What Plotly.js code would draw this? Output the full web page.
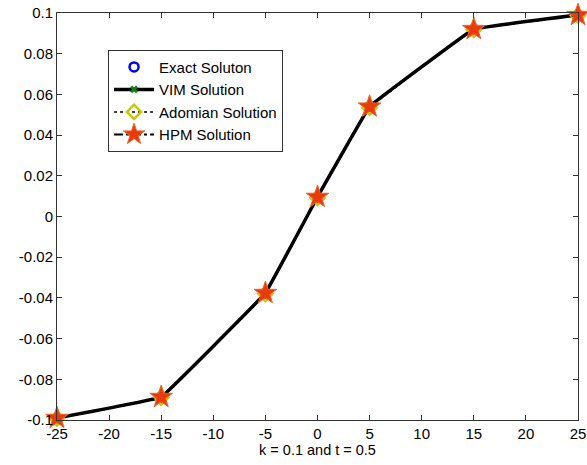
<!DOCTYPE html>
<html>
<head>
<meta charset="utf-8">
<script src="https://cdn.plot.ly/plotly-3.0.1.min.js"></script>
<style>html,body{margin:0;padding:0;background:#fff;}#chart{width:587px;height:465px;}</style>
</head>
<body>
<div id="chart"></div>
<script>
var xVals = [-25, -15, -5, 0, 5, 15, 25];
var exactVals = [-0.0990, -0.0887, -0.0376, 0.0096, 0.0540, 0.0921, 0.0990];
var vimVals = [-0.0990, -0.0887, -0.0376, 0.0096, 0.0540, 0.0921, 0.0990];
var adomianVals = [-0.0992, -0.0890, -0.0380, 0.0092, 0.0535, 0.0918, 0.0988];
var hpmVals = [-0.0990, -0.0887, -0.0376, 0.0096, 0.0540, 0.0921, 0.0990];
var xTickVals = [-25, -20, -15, -10, -5, 0, 5, 10, 15, 20, 25];
var xTickText = ['-25', '-20', '-15', '-10', '-5', '0', '5', '10', '15', '20', '25'];
var yTickVals = [-0.1, -0.08, -0.06, -0.04, -0.02, 0, 0.02, 0.04, 0.06, 0.08, 0.1];
var yTickText = ['-0.1', '-0.08', '-0.06', '-0.04', '-0.02', '0', '0.02', '0.04', '0.06', '0.08', '0.1'];
var seriesNames = ['Exact Soluton', 'VIM Solution', 'Adomian Solution', 'HPM Solution'];

var traces = [
  {x: xVals, y: exactVals, name: seriesNames[0], mode: 'markers', type: 'scatter', cliponaxis: false,
   marker: {symbol: 'circle-open', size: 9, color: '#0000ff', line: {width: 2.5, color: '#0000ff'}}},
  {x: xVals, y: vimVals, name: seriesNames[1], mode: 'lines+markers', type: 'scatter', cliponaxis: false,
   line: {color: '#000000', width: 3.5, shape: 'spline', smoothing: 0.12},
   marker: {symbol: 'x', size: 7, color: '#108010'}},
  {x: xVals, y: adomianVals, name: seriesNames[2], mode: 'lines+markers', type: 'scatter', cliponaxis: false,
   line: {color: '#000000', width: 1.5, dash: 'dot', shape: 'spline', smoothing: 0.12},
   marker: {symbol: 'diamond-open', size: 11, color: '#c8c800', line: {width: 2.5, color: '#c8c800'}}},
  {x: xVals, y: hpmVals, name: seriesNames[3], mode: 'lines+markers', type: 'scatter', cliponaxis: false,
   line: {color: '#000000', width: 2, dash: 'dashdot', shape: 'spline', smoothing: 0.12},
   marker: {symbol: 'star', size: 17, color: '#e83a0c', line: {width: 1, color: '#f06020'}}}
];

var layout = {
  width: 587, height: 465,
  margin: {l: 57, r: 9, t: 13, b: 45},
  paper_bgcolor: '#ffffff', plot_bgcolor: '#ffffff',
  font: {family: 'Liberation Sans, Arial, sans-serif', color: '#000000', size: 15},
  showlegend: true,
  legend: {x: 0.098, y: 0.91, xanchor: 'left', yanchor: 'top', bgcolor: '#ffffff',
    bordercolor: '#333333', borderwidth: 1, font: {size: 15, color: '#000000'},
    tracegroupgap: 0, itemwidth: 40},
  xaxis: {range: [-25, 25], tickvals: xTickVals, ticktext: xTickText, ticks: 'inside', ticklen: 5,
    tickcolor: '#333333', showgrid: false, zeroline: false, showline: true, linecolor: '#333333',
    linewidth: 1, mirror: 'ticks', tickfont: {size: 15},
    title: {text: 'k = 0.1 and t = 0.5', font: {size: 14.5}, standoff: 3}},
  yaxis: {range: [-0.1, 0.1], tickvals: yTickVals, ticktext: yTickText, ticks: 'inside', ticklen: 5,
    tickcolor: '#333333', showgrid: false, zeroline: false, showline: true, linecolor: '#333333',
    linewidth: 1, mirror: 'ticks', tickfont: {size: 15}}
};

Plotly.newPlot('chart', traces, layout, {displayModeBar: false, staticPlot: true});
</script>
</body>
</html>
